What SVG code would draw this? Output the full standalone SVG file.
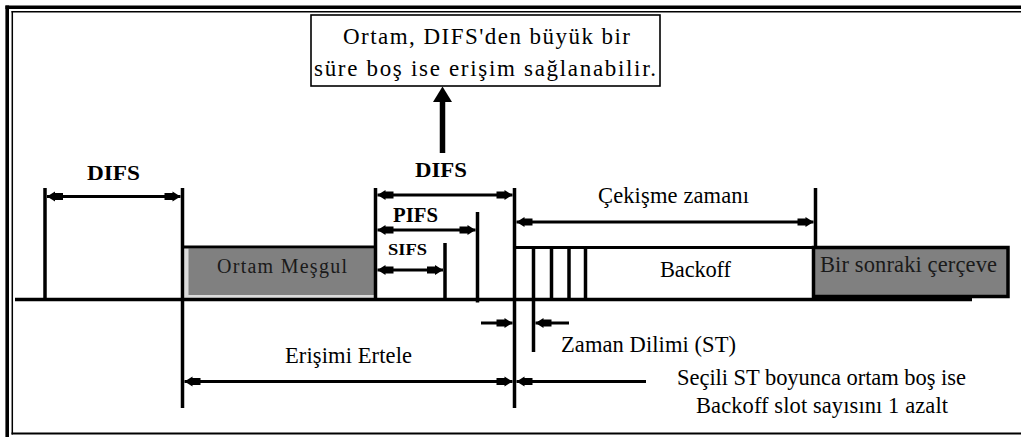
<svg xmlns="http://www.w3.org/2000/svg" width="1021" height="437" viewBox="0 0 1021 437">
  <style>
    .ln { stroke: #000; fill: none; }
    .v { stroke: #000; stroke-width: 3.5; fill: none; }
    .h { stroke: #000; stroke-width: 3; fill: none; }
    .arr { stroke: #000; stroke-width: 3; fill: none; marker-start: url(#ah); marker-end: url(#ah); }
    .arr1 { stroke: #000; stroke-width: 3; fill: none; marker-end: url(#ah); }
    text { font-family: 'Liberation Serif', 'Times New Roman', serif; }
    .t { font-size: 22.5px; fill: #000; }
    .tc { font-size: 23px; fill: #000; }
    .tb { font-weight: bold; fill: #000; }
    .tg { fill: #1a1a1a; }
  </style>
  <defs>
    <marker id="ah" viewBox="-17 -6 18 12" refX="0" refY="0" markerWidth="18" markerHeight="12" markerUnits="userSpaceOnUse" orient="auto-start-reverse">
      <path d="M0,0 L-8,-5 L-8,-3.5 L-16,-3.5 L-16,3.5 L-8,3.5 L-8,5 Z" fill="#000"/>
    </marker>
  </defs>

  <rect x="0" y="0" width="1021" height="437" fill="#fff"/>

  <g id="frame">
    <line class="ln" x1="7.2" y1="5.5" x2="7.2" y2="437" stroke-width="3.6"/>
    <line class="ln" x1="5.4" y1="7.3" x2="1021" y2="7.3" stroke-width="3.6"/>
    <line class="ln" x1="12.3" y1="11" x2="12.3" y2="434.5" stroke-width="1.5"/>
    <line class="ln" x1="11.5" y1="11.8" x2="1021" y2="11.8" stroke-width="1.5"/>
    <line class="ln" x1="11.5" y1="433.6" x2="1021" y2="433.6" stroke-width="2"/>
  </g>

  <g id="callout">
    <rect x="311" y="15" width="349" height="71" fill="#fff" stroke="#000" stroke-width="1.6"/>
    <text class="tc" x="343" y="44" textLength="287" lengthAdjust="spacing">Ortam, DIFS'den büyük bir</text>
    <text class="tc" x="314" y="76" textLength="342" lengthAdjust="spacing">süre boş ise erişim sağlanabilir.</text>
  </g>

  <g id="busy">
    <rect x="184.5" y="248.5" width="190" height="49.5" fill="#dcdcdc"/>
    <rect x="188.5" y="248.5" width="186" height="46.5" fill="#808080"/>
    <text class="tg" x="217" y="272.5" style="font-size:20px" textLength="130" lengthAdjust="spacing">Ortam Meşgul</text>
  </g>

  <g id="backoff">
    <text class="t" x="660" y="277" textLength="71" lengthAdjust="spacing">Backoff</text>
  </g>

  <g id="next-frame">
    <rect x="813.5" y="247.5" width="194.5" height="49" fill="#808080" stroke="#000" stroke-width="3.5"/>
    <text class="t tg" x="820" y="271.7" textLength="177" lengthAdjust="spacing">Bir sonraki çerçeve</text>
  </g>

  <g id="labels">
    <text class="tb" x="87" y="180" style="font-size:22px" textLength="53" lengthAdjust="spacingAndGlyphs">DIFS</text>
    <text class="tb" x="415" y="176.7" style="font-size:22px" textLength="52" lengthAdjust="spacingAndGlyphs">DIFS</text>
    <text class="tb" x="393" y="221.7" style="font-size:21px" textLength="45" lengthAdjust="spacingAndGlyphs">PIFS</text>
    <text class="tb" x="388" y="255" style="font-size:17px" textLength="39" lengthAdjust="spacingAndGlyphs">SIFS</text>
    <text class="t" x="598" y="203" textLength="151" lengthAdjust="spacing">Çekişme zamanı</text>
    <text class="t" x="285" y="363.3" textLength="127" lengthAdjust="spacing">Erişimi Ertele</text>
    <text class="t" x="561" y="352" textLength="175" lengthAdjust="spacing">Zaman Dilimi (ST)</text>
    <text class="t" x="677" y="385" textLength="289" lengthAdjust="spacing">Seçili ST boyunca ortam boş ise</text>
    <text class="t" x="696" y="413" textLength="252" lengthAdjust="spacing">Backoff slot sayısını 1 azalt</text>
  </g>

  <g id="connectors">
    <line class="ln" x1="15" y1="299.5" x2="972" y2="299.5" stroke-width="3.5"/>
    <line class="h" x1="182.5" y1="247" x2="375.5" y2="247"/>
    <line class="h" x1="514.5" y1="247.5" x2="813.5" y2="247.5"/>
    <line class="v" x1="45" y1="188" x2="45" y2="301"/>
    <line class="v" x1="182.5" y1="188" x2="182.5" y2="408"/>
    <line class="v" x1="375.5" y1="188" x2="375.5" y2="301"/>
    <line class="v" x1="514.5" y1="188" x2="514.5" y2="408"/>
    <line class="v" x1="477.5" y1="212" x2="477.5" y2="302.5"/>
    <line class="v" x1="445" y1="243" x2="445" y2="301"/>
    <line class="v" x1="815.5" y1="188" x2="815.5" y2="247"/>
    <line class="v" x1="533.5" y1="247" x2="533.5" y2="352"/>
    <line class="v" x1="551.5" y1="247" x2="551.5" y2="299"/>
    <line class="v" x1="569" y1="247" x2="569" y2="299"/>
    <line class="v" x1="585.5" y1="247" x2="585.5" y2="299"/>
    <line class="arr" x1="47" y1="196.5" x2="180.5" y2="196.5"/>
    <line class="arr" x1="377.5" y1="195" x2="512.5" y2="195"/>
    <line class="arr" x1="377.5" y1="230" x2="475.5" y2="230"/>
    <line class="arr" x1="377.5" y1="270" x2="443" y2="270"/>
    <line class="arr" x1="516.5" y1="222" x2="813.5" y2="222"/>
    <line class="arr" x1="184.5" y1="381.5" x2="512.5" y2="381.5"/>
    <line class="arr1" x1="646" y1="381.5" x2="516.5" y2="381.5"/>
    <line class="arr1" x1="481" y1="323" x2="512.5" y2="323"/>
    <line class="arr1" x1="569" y1="323" x2="535.5" y2="323"/>
    <line class="ln" x1="442.5" y1="153" x2="442.5" y2="100" stroke-width="5.5"/>
    <polygon points="442.5,86.5 433,102 452,102" fill="#000"/>
  </g>
</svg>
